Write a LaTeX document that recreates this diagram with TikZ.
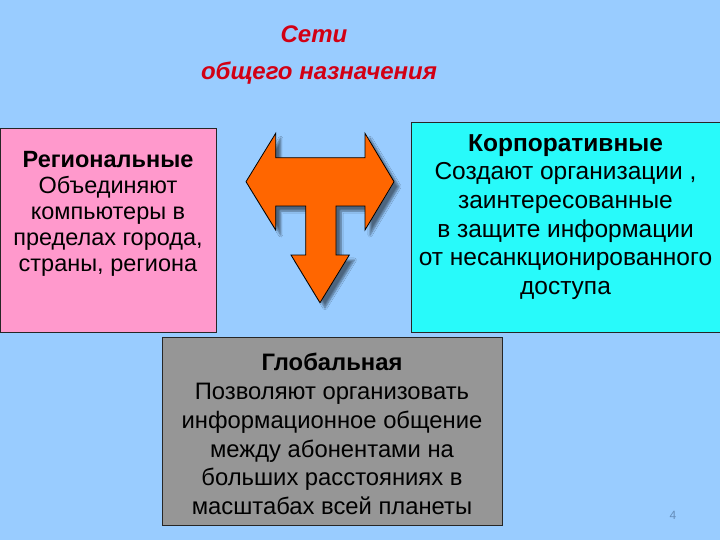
\documentclass[tikz,border=0pt]{standalone}
\usepackage{fontspec}
\setmainfont{Liberation Sans}
\usetikzlibrary{shadows.blur}
\definecolor{bgblue}{RGB}{153,204,255}
\definecolor{pinkbox}{RGB}{255,153,204}
\definecolor{cyanbox}{RGB}{40,250,250}
\definecolor{graybox}{RGB}{150,150,150}
\definecolor{titlered}{RGB}{210,0,20}
\definecolor{arroworange}{RGB}{255,102,0}
\definecolor{pagenum}{RGB}{100,140,185}
\begin{document}
\begin{tikzpicture}[x=1pt,y=-1pt,
  box/.style={shape=rectangle,draw=black!85,line width=0.8pt,inner sep=0pt},
  boxtext/.style={align=center,inner sep=0pt,text=black}]
\useasboundingbox[fill=bgblue] (0,0) rectangle (720,540);

\node(title1) at (314,34)[text=titlered,font=\fontsize{24}{26}\selectfont\bfseries\itshape] {Сети};
\node(title2) at (319,73)[text=titlered,font=\fontsize{24}{26}\selectfont\bfseries\itshape] {общего назначения};

\node(regbox) at (108,230)[box,fill=pinkbox,minimum width=216pt,minimum height=204pt] {};
\node(regtext) at (108,214)[boxtext,font=\fontsize{23.5}{26}\selectfont]
  {\textbf{Региональные}\\Объединяют\\компьютеры в\\пределах города,\\страны, региона};

\node(corpbox) at (565.5,227)[box,fill=cyanbox,minimum width=309pt,minimum height=210pt] {};
\node(corptext) at (565.5,217)[boxtext,font=\fontsize{24.5}{28.7}\selectfont]
  {\textbf{Корпоративные}\\Создают организации ,\\заинтересованные\\в защите информации\\от несанкционированного\\доступа};

\node(globbox) at (332,431)[box,fill=graybox,minimum width=340pt,minimum height=188pt] {};
\node(globtext) at (332,434)[boxtext,font=\fontsize{23.8}{28.8}\selectfont]
  {\textbf{Глобальная}\\Позволяют организовать\\информационное общение\\между абонентами на\\больших расстояниях в\\масштабах всей планеты};

\draw[fill=arroworange,draw=black,line width=0.8pt,line join=miter,
      blur shadow={shadow xshift=5pt,shadow yshift=-5pt,shadow blur steps=6,shadow opacity=50}]
  (246,181.7) -- (275.7,133.3) -- (275.7,157.7) -- (365,157.7) -- (365,133.3)
  -- (394,181.7) -- (365,230) -- (365,206) -- (336,206) -- (336,255)
  -- (349.3,255) -- (320,302.7) -- (291,255) -- (305.7,255) -- (305.7,206)
  -- (275.7,206) -- (275.7,230) -- cycle;

\node(pagenumber) at (673,515)[text=pagenum,font=\fontsize{12}{14}\selectfont] {4};

\end{tikzpicture}
\end{document}
